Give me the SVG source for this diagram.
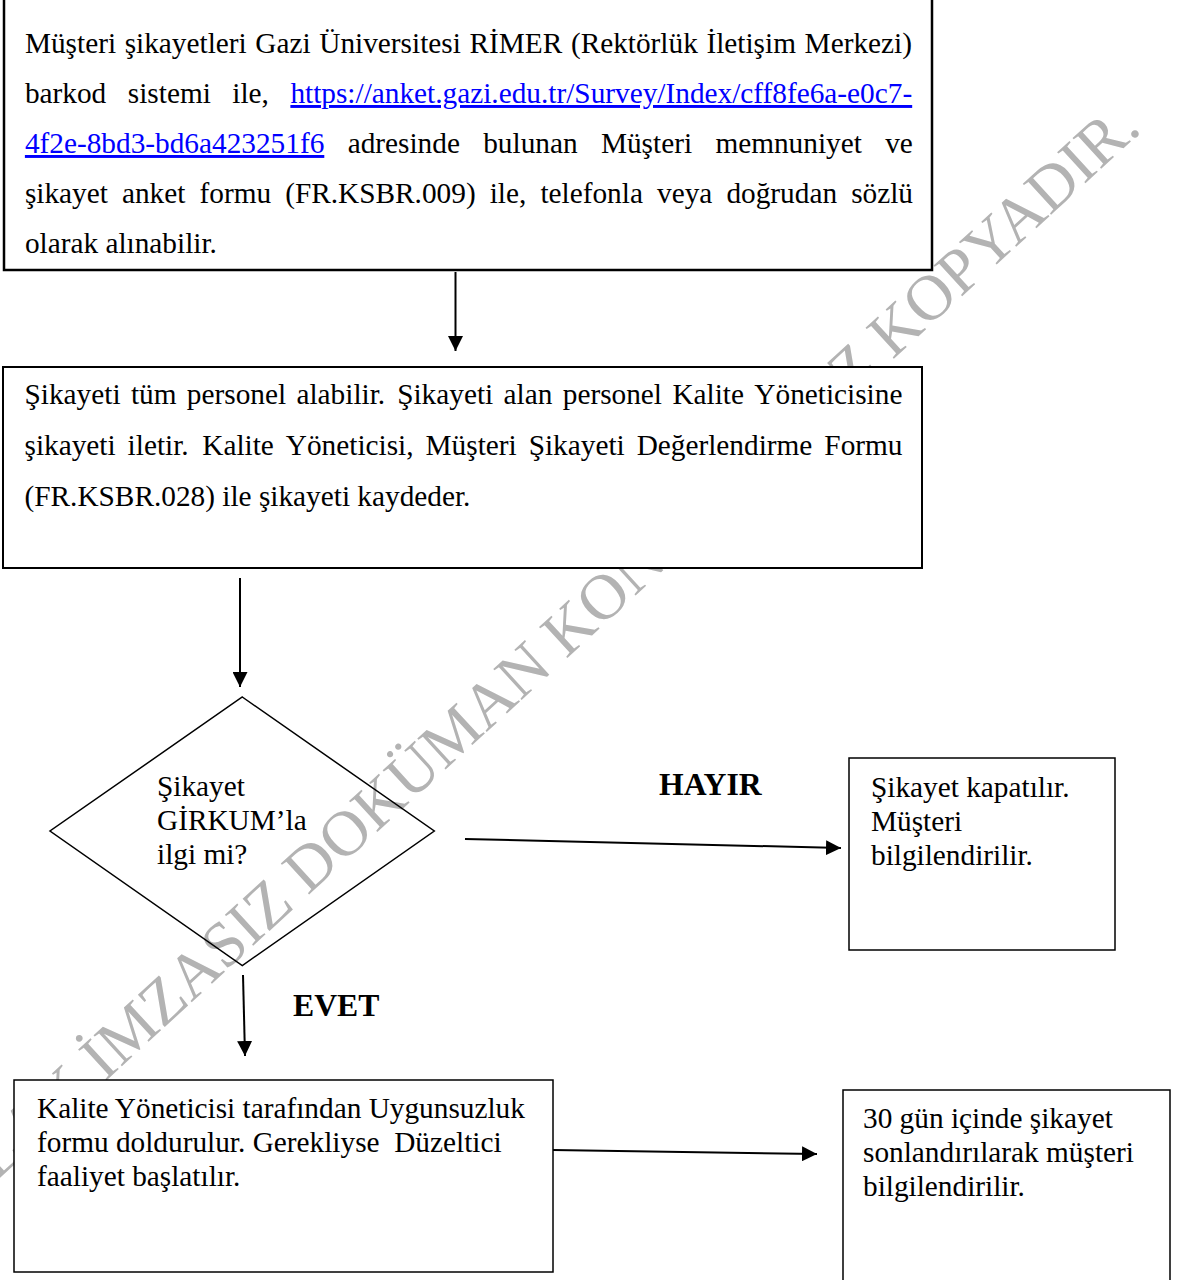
<svg xmlns="http://www.w3.org/2000/svg" width="1179" height="1280" viewBox="0 0 1179 1280">
<style>
text{font-family:"Liberation Serif","Times New Roman",serif;font-size:29.3px;fill:#000}
.wm{font-size:64px;fill:#b3b3b3}
.lnk{fill:#0000ff;text-decoration:underline}
.b{font-weight:bold;font-size:31.7px}
.box{fill:#fff;stroke:#000}
.con{stroke:#000;stroke-width:2;fill:none}
</style>
<defs>
<marker id="ah" viewBox="0 0 10 10" refX="10" refY="5" markerWidth="7.5" markerHeight="7.5" markerUnits="strokeWidth" orient="auto">
<path d="M0,0 L10,5 L0,10 Z" fill="#000"/>
</marker>
</defs>
<rect width="1179" height="1280" fill="#fff"/>
<text class="wm" transform="translate(-46,1220) rotate(-42.5)">ISLAK İMZASIZ DOKÜMAN KONTROLSÜZ KOPYADIR.</text>

<g id="n1">
<rect class="box" x="4" y="-10" width="928" height="280" stroke-width="2.5"/>
<text y="53"><tspan x="24.9">Müşteri</tspan><tspan x="124.66">şikayetleri</tspan><tspan x="255.33">Gazi</tspan><tspan x="319.26">Üniversitesi</tspan><tspan x="469.48">RİMER</tspan><tspan x="570.88">(Rektörlük</tspan><tspan x="706.45">İletişim</tspan><tspan x="804.6">Merkezi)</tspan></text>
<text y="103"><tspan x="24.9">barkod</tspan><tspan x="127.8">sistemi</tspan><tspan x="232.3">ile,</tspan><tspan x="290.4" class="lnk">https://anket.gazi.edu.tr/Survey/Index/cff8fe6a-e0c7-</tspan></text>
<text y="153"><tspan x="24.9" class="lnk">4f2e-8bd3-bd6a423251f6</tspan><tspan x="347.65">adresinde</tspan><tspan x="483.23">bulunan</tspan><tspan x="600.93">Müşteri</tspan><tspan x="715.38">memnuniyet</tspan><tspan x="885.18">ve</tspan></text>
<text y="203"><tspan x="24.9">şikayet</tspan><tspan x="121.97">anket</tspan><tspan x="199.5">formu</tspan><tspan x="285.18">(FR.KSBR.009)</tspan><tspan x="489.73">ile,</tspan><tspan x="540.43">telefonla</tspan><tspan x="657.02">veya</tspan><tspan x="726.41">doğrudan</tspan><tspan x="851.15">sözlü</tspan></text>
<text x="24.9" y="253">olarak alınabilir.</text>
</g>

<g id="n2">
<rect class="box" x="3" y="367" width="919" height="201" stroke-width="2"/>
<text y="404"><tspan x="24.5">Şikayeti</tspan><tspan x="130.9">tüm</tspan><tspan x="186.85">personel</tspan><tspan x="296.48">alabilir.</tspan><tspan x="397.17">Şikayeti</tspan><tspan x="503.58">alan</tspan><tspan x="562.75">personel</tspan><tspan x="672.38">Kalite</tspan><tspan x="754.35">Yöneticisine</tspan></text>
<text y="455"><tspan x="24.5">şikayeti</tspan><tspan x="127.61">iletir.</tspan><tspan x="202.24">Kalite</tspan><tspan x="285.81">Yöneticisi,</tspan><tspan x="425.55">Müşteri</tspan><tspan x="528.66">Şikayeti</tspan><tspan x="636.67">Değerlendirme</tspan><tspan x="824.37">Formu</tspan></text>
<text x="24.5" y="506">(FR.KSBR.028) ile şikayeti kaydeder.</text>
</g>

<g id="n3">
<polygon points="242.3,697 434.3,831 242.3,965.5 50,831" fill="none" stroke="#000" stroke-width="1.5"/>
<text x="157" y="796">Şikayet</text>
<text x="157" y="830">GİRKUM’la</text>
<text x="157" y="864">ilgi mi?</text>
</g>

<g id="n4">
<rect class="box" x="849" y="758" width="266" height="192" stroke-width="1.5"/>
<text x="871" y="797">Şikayet kapatılır.</text>
<text x="871" y="831">Müşteri</text>
<text x="871" y="865">bilgilendirilir.</text>
</g>

<g id="n5">
<rect class="box" x="14" y="1080" width="539" height="192" stroke-width="1.5"/>
<text x="37" y="1118">Kalite Yöneticisi tarafından Uygunsuzluk</text>
<text x="37" y="1152" xml:space="preserve">formu doldurulur. Gerekliyse  Düzeltici</text>
<text x="37" y="1186">faaliyet başlatılır.</text>
</g>

<g id="n6">
<rect class="box" x="843" y="1090" width="327" height="210" stroke-width="1.5"/>
<text x="863" y="1128">30 gün içinde şikayet</text>
<text x="863" y="1162">sonlandırılarak müşteri</text>
<text x="863" y="1196">bilgilendirilir.</text>
</g>

<g id="connectors">
<line class="con" x1="455.5" y1="272" x2="455.5" y2="351" marker-end="url(#ah)"/>
<line class="con" x1="240" y1="578" x2="240" y2="687" marker-end="url(#ah)"/>
<line class="con" x1="465" y1="839" x2="841" y2="848" marker-end="url(#ah)"/>
<line class="con" x1="243" y1="975" x2="245" y2="1056" marker-end="url(#ah)"/>
<line class="con" x1="553" y1="1150" x2="817" y2="1154" marker-end="url(#ah)"/>
<text class="b" x="659" y="795">HAYIR</text>
<text class="b" x="293" y="1016">EVET</text>
</g>
</svg>
